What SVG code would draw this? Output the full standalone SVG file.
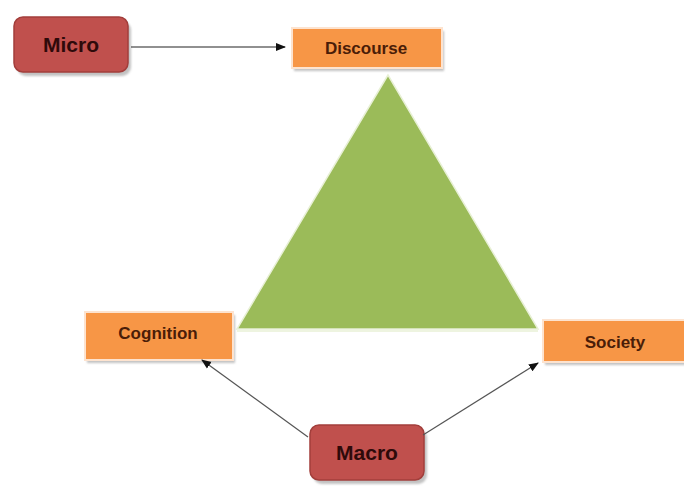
<svg xmlns="http://www.w3.org/2000/svg" width="684" height="486" viewBox="0 0 684 486">
<defs>
<style>
.orange{fill:#f79646;stroke:#fde3cf;stroke-width:2}
.red{fill:#c0504d;stroke:#a23e3b;stroke-width:1.5}
.shadow{fill:#9a9a9a;opacity:0.6}
.tO{font-family:"Liberation Sans",Arial,sans-serif;font-weight:bold;font-size:17px;fill:#4a1d08;text-anchor:middle}
.tR{font-family:"Liberation Sans",Arial,sans-serif;font-weight:bold;font-size:21px;fill:#2e0a0a;text-anchor:middle}
.conn{stroke:#222;stroke-width:1.2;fill:none}
.connG{stroke:#555;stroke-width:1.2;fill:none}
</style>
<filter id="blur" x="-10%" y="-10%" width="120%" height="130%"><feGaussianBlur stdDeviation="1.2"/></filter>
<marker id="arr" markerWidth="10" markerHeight="10" refX="9" refY="5" orient="auto" markerUnits="userSpaceOnUse">
<path d="M0,1 L10,5 L0,9 Z" fill="#111"/>
</marker>
</defs>
<rect width="684" height="486" fill="#ffffff"/>
<g id="triangle">
<polygon points="388,75 237,329 538,329" fill="#9bbb59" stroke="#e8f0d6" stroke-width="1.5"/>
<line x1="237" y1="331" x2="538" y2="331" stroke="#eef4e0" stroke-width="2"/>
<line x1="237" y1="334" x2="538" y2="334" stroke="#a0a0a0" stroke-width="2.5" filter="url(#blur)"/>
</g>
<g id="micro">
<rect class="shadow" x="17" y="21" width="114" height="55" rx="9" filter="url(#blur)"/>
<rect class="red" x="14" y="17" width="114" height="55" rx="9"/>
<text class="tR" x="71" y="52">Micro</text>
</g>
<g id="discourse">
<rect class="shadow" x="294" y="31" width="150" height="40" filter="url(#blur)"/>
<rect class="orange" x="292" y="28" width="150" height="40"/>
<text class="tO" x="366" y="54">Discourse</text>
</g>
<g id="cognition">
<rect class="shadow" x="87" y="315" width="148" height="48" filter="url(#blur)"/>
<rect class="orange" x="85" y="312" width="148" height="48"/>
<text class="tO" x="158" y="339">Cognition</text>
</g>
<g id="society">
<rect class="shadow" x="545" y="323" width="142" height="42" filter="url(#blur)"/>
<rect class="orange" x="543" y="320" width="145" height="42"/>
<text class="tO" x="615" y="348">Society</text>
</g>
<g id="macro">
<rect class="shadow" x="313" y="429" width="114" height="55" rx="9" filter="url(#blur)"/>
<rect class="red" x="310" y="425" width="114" height="55" rx="9"/>
<text class="tR" x="367" y="460">Macro</text>
</g>
<g id="connectors">
<line class="conn" x1="131" y1="47" x2="285" y2="47" marker-end="url(#arr)"/>
<line class="connG" x1="308" y1="437" x2="202" y2="360" marker-end="url(#arr)"/>
<line class="connG" x1="423" y1="435" x2="538" y2="363" marker-end="url(#arr)"/>
</g>
</svg>
